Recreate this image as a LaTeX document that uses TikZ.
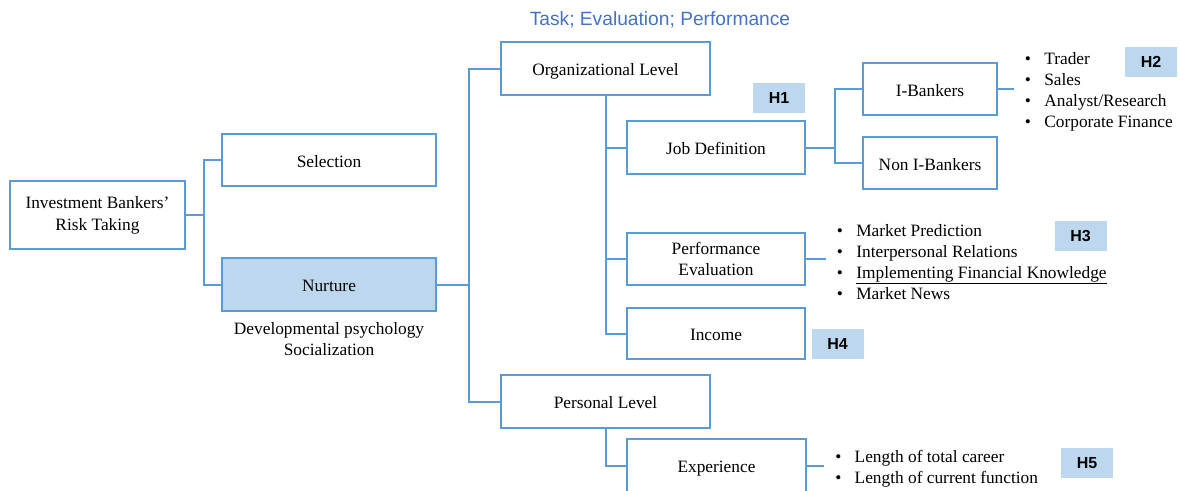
\documentclass[tikz,border=0pt]{standalone}
\usepackage{fontspec}
\setmainfont{Liberation Serif}
\newfontfamily\hfont{Liberation Sans}
\usetikzlibrary{positioning}
\definecolor{lineblue}{HTML}{5B9BD5}
\definecolor{fillblue}{HTML}{BDD7EE}
\definecolor{titleblue}{HTML}{4472C4}

\begin{document}
\begin{tikzpicture}[x=0.75pt,y=-0.75pt]
				\tikzset{box/.style = {shape=rectangle, draw=lineblue, line width=1.5pt, align=center, inner sep=2pt,
						font=\fontsize{13}{15.75}\selectfont}}
				\tikzset{single/.style = {text height=11pt, text depth=0pt}}
				\tikzset{hyp/.style = {shape=rectangle, fill=fillblue, minimum width=39pt, minimum height=22.5pt,
						font=\hfont\bfseries\fontsize{12}{14}\selectfont}}
				\tikzset{items/.style = {shape=rectangle, align=left, inner xsep=8pt, inner ysep=0pt, yshift=-2pt,
						font=\fontsize{13}{15.75}\selectfont}}
				\tikzset{link/.style = {draw=lineblue, line width=1.5pt}}
				\useasboundingbox (0,0) rectangle (1179,490);
				
				\node[text=titleblue, font=\hfont\fontsize{14.4}{17}\selectfont] (TITLE) at (660,20) {Task; Evaluation; Performance};
				
				\node[box, minimum width=131.25pt, minimum height=51pt, font=\fontsize{13}{16.5}\selectfont] (ROOT) at (97.5,215)
				{Investment Bankers'\\Risk Taking};
				\node[box, single, minimum width=160.5pt, minimum height=39pt] (SEL) at (329,160) {Selection};
				\node[box, single, fill=fillblue, minimum width=160.5pt, minimum height=39.75pt] (NUR) at (329,284.5) {Nurture};
				\node[align=center, inner sep=1pt, font=\fontsize{13}{15.75}\selectfont, below=7pt of NUR] (NURL)
				{Developmental psychology\\Socialization};
				
				\node[box, single, minimum width=156.75pt, minimum height=39.75pt] (ORG) at (605.5,68.5) {Organizational Level};
				\node[box, single, minimum width=156.75pt, minimum height=39.75pt] (PERS) at (605.5,401.5) {Personal Level};
				
				\node[box, single, minimum width=133.5pt, minimum height=39.75pt] (JOB) at (716,147.5) {Job Definition};
				\node[box, minimum width=133.5pt, minimum height=39pt] (PERF) at (716,259) {Performance\\Evaluation};
				\node[box, single, minimum width=133.5pt, minimum height=38.25pt] (INC) at (716,333.5) {Income};
				\node[box, single, minimum width=134.25pt, minimum height=39.75pt] (EXP) at (716.5,465.5) {Experience};
				
				\node[box, single, minimum width=100.5pt, minimum height=39pt] (IB) at (930,89) {I-Bankers};
				\node[box, single, minimum width=100.5pt, minimum height=39pt] (NIB) at (930,163) {Non I-Bankers};
				
				\node[items, right=12pt of IB] (IBL)
				{\textbullet\hspace{10pt}Trader \\
					\textbullet\hspace{10pt}Sales \\
					\textbullet\hspace{10pt}Analyst/Research \\
					\textbullet\hspace{10pt}Corporate Finance};
				\node[items, right=15pt of PERF] (PERFL)
				{\textbullet\hspace{10pt}Market Prediction \\
					\textbullet\hspace{10pt}Interpersonal Relations \\
					\textbullet\hspace{10pt}\underline{Implementing Financial Knowledge} \\
					\textbullet\hspace{10pt}Market News};
				\node[items, right=13pt of EXP, yshift=-0.5pt] (EXPL)
				{\textbullet\hspace{10pt}Length of total career \\
					\textbullet\hspace{10pt}Length of current function};
				
				\node[hyp] (H1) at (779,98) {H1};
				\node[hyp] (H2) at (1151,62) {H2};
				\node[hyp] (H3) at (1080.5,235.5) {H3};
				\node[hyp] (H4) at (837.5,344) {H4};
				\node[hyp] (H5) at (1087,463) {H5};
				
				\draw[link] (ROOT.east) -- ++(18,0) coordinate (J1) |- (SEL.west);
				\draw[link] (J1) |- (NUR.west);
				\draw[link] (NUR.east) -- ++(32,0) coordinate (J2) |- (ORG.west);
				\draw[link] (J2) |- (PERS.west);
				\draw[link] (ORG.south) |- (JOB.west);
				\draw[link] (ORG.south) |- (PERF.west);
				\draw[link] (ORG.south) |- (INC.west);
				\draw[link] (PERS.south) |- (EXP.west);
				\draw[link] (JOB.east) -- ++(29,0) coordinate (J3) |- (IB.west);
				\draw[link] (J3) |- (NIB.west);
				\draw[link] (IB.east) -- (IB.east -| IBL.west);
				\draw[link] (PERF.east) -- (PERF.east -| PERFL.west);
				\draw[link] (EXP.east) -- (EXP.east -| EXPL.west);
				
\end{tikzpicture}
\end{document}
